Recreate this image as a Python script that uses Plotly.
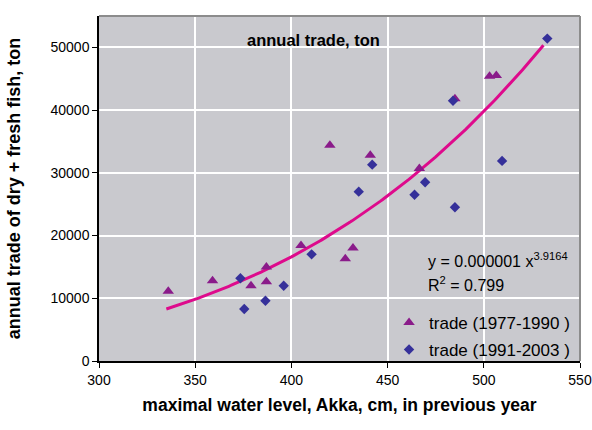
import numpy as np
import plotly.graph_objects as go

# Maximal water level (cm, previous year) and annual trade (ton)
level_1977_1990 = [336, 359, 379, 387, 387, 405, 428, 432, 420, 441, 466.5, 485, 503, 506.5]
trade_1977_1990 = [11100, 12800, 12000, 15000, 12650, 18400, 16300, 18000, 34400, 32800, 30700, 41800, 45400, 45500]

level_1991_2003 = [373.5, 375.5, 386.5, 396, 410.5, 435, 442, 464, 469.5, 484, 485, 509.5, 533]
trade_1991_2003 = [13200, 8300, 9600, 12000, 17000, 27000, 31300, 26500, 28500, 41500, 24500, 31900, 51400]

# Power trend line y = a * x^b
trend_a = 1.07e-6
trend_b = 3.9164
trend_r2 = 0.799
trend_x_range = [335, 531]

x_ticks = [300, 350, 400, 450, 500, 550]
y_ticks = [0, 10000, 20000, 30000, 40000, 50000]

FONT = "Liberation Sans, Arial, sans-serif"

tx = np.linspace(trend_x_range[0], trend_x_range[1], 200)
ty = trend_a * tx ** trend_b

fig = go.Figure()
fig.add_trace(go.Scatter(
    x=tx, y=ty, mode="lines", line=dict(color="#DE0A8C", width=3),
    showlegend=False, hoverinfo="skip",
))
fig.add_trace(go.Scatter(
    x=level_1977_1990, y=trade_1977_1990, mode="markers",
    name="trade (1977-1990 )", legendgroup="a",
    marker=dict(symbol="triangle-up", size=10, color="#8A1B8A"),
))
fig.add_trace(go.Scatter(
    x=level_1991_2003, y=trade_1991_2003, mode="markers",
    name="trade (1991-2003 )", legendgroup="b",
    marker=dict(symbol="diamond", size=8, color="#35309A"),
))

axis_common = dict(
    showgrid=True, gridcolor="white", gridwidth=1.5,
    showline=True, linecolor="black", linewidth=1.5,
    ticks="outside", ticklen=5, tickcolor="black", tickwidth=1.2,
    zeroline=False, automargin=False,
    tickfont=dict(family=FONT, size=14, color="black"),
)

fig.update_layout(
    width=592, height=430,
    margin=dict(l=99, r=12, t=16, b=69),
    paper_bgcolor="white", plot_bgcolor="#C9C9CE",
    font=dict(family=FONT, color="black"),
    xaxis=dict(
        range=[300, 550], tickvals=x_ticks,
        title=dict(text="<b>maximal water level, Akka, cm, in previous year</b>",
                   font=dict(family=FONT, size=17.5), standoff=12),
        **axis_common,
    ),
    yaxis=dict(
        range=[0, 55000], tickvals=y_ticks, ticktext=[str(v) for v in y_ticks],
        title=dict(text="<b>annual trade of dry + fresh fish, ton</b>",
                   font=dict(family=FONT, size=18), standoff=25),
        **axis_common,
    ),
    legend=dict(
        x=0.603, y=-0.02, xanchor="left", yanchor="bottom",
        bgcolor="rgba(0,0,0,0)", traceorder="grouped", tracegroupgap=2,
        font=dict(family=FONT, size=17, color="black"),
        itemwidth=30,
    ),
    showlegend=True,
)

# Gray frame on the top and right of the plotting area
fig.add_shape(type="line", xref="paper", yref="paper", x0=0, x1=1, y0=1, y1=1,
              line=dict(color="#8C8C8C", width=2))
fig.add_shape(type="line", xref="paper", yref="paper", x0=1, x1=1, y0=0, y1=1,
              line=dict(color="#8C8C8C", width=2))

fig.add_annotation(
    text="<b>annual trade, ton</b>", xref="paper", yref="paper",
    x=0.445, y=0.963, showarrow=False,
    font=dict(family=FONT, size=16.5, color="black"),
)
fig.add_annotation(
    text=f"y = {trend_a:.6f} x<sup>{trend_b}</sup>", xref="paper", yref="paper",
    x=0.68, y=0.259, xanchor="left", showarrow=False,
    font=dict(family=FONT, size=16, color="black"),
)
fig.add_annotation(
    text=f"R<sup>2</sup> = {trend_r2}", xref="paper", yref="paper",
    x=0.68, y=0.187, xanchor="left", showarrow=False,
    font=dict(family=FONT, size=16, color="black"),
)

fig.write_html("out.html")
